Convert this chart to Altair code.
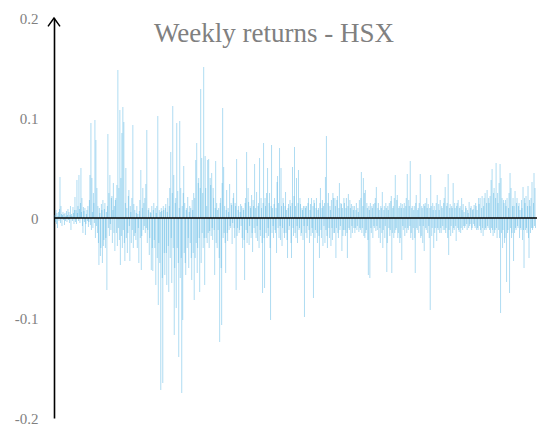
import altair as alt
import pandas as pd

title_text = "Weekly returns - HSX"
y_ticks = [-0.2, -0.1, 0, 0.1, 0.2]

# Weekly returns, in per-mille, in chronological order
seg1 = [3,-4, 8,-6, 5,-10, 2,6, -3,9, 41,-5, 12,4, -8,3, 6,-2, 4,-7,
        5,-3, 2,7, -4,3, 9,-2, 6,-5, 3,12, -12,4, 2,-3, 11,5, -6,8,
        21,-4, 8,-6, 38,5, 12,-3, 43,9, -5,15, 50,6, 20,-8, -15,11, 7,-4,
        10,-17, -6,4, 8,-3, 12,-9, -4,18, 43,-7, 95,-12, 40,6, -10,25, 15,-5,
        98,-20, 78,-8, 30,-15, 12,-25, -47,10, 5,-38, -30,14, 8,-45, 18,-28, -22,9,
        15,-30, -20,6, -72,12, 84,-10, 25,-18, 43,-6, -12,20, 22,-25, 8,35, -15,12]
seg2 = [-33,18, 20,-15, 33,-28, 148,-10, 30,-22, 108,-47, 40,-18, 85,-30, 111,-12, 96,-25,
        -43,15, 50,-20, 10,-35, -15,22, 28,-8, -43,12, 6,-25, 20,-12, 93,-30, 14,-18,
        8,-15, -22,5, 12,-30, 4,-10, -45,7, 18,-20, 48,-52, -18,10, 30,-12, 15,-8,
        20,-15, 34,-10, 88,-25, -12,8, 10,-37, -20,6, 5,-52, 12,-30, -53,8, 15,-22,
        -30,10, -67,5, 12,-40, 102,-87, -25,8, -45,6, -172,10, 7,-60, -165,12, 8,-35,
        -57,10, 14,-35, -67,6, 20,-28, -74,12, 30,-40, 66,-20, -65,25, 112,-30, 43,-117]
seg3 = [-50,15, 20,-90, 95,-30, 27,-45, -139,10, 97,-60, 30,-40, -175,12, -102,25, 52,-35,
        15,-45, -57,8, 10,-30, 21,-20, -50,6, 12,-25, 10,-40, -62,18, 8,-35, 25,-82,
        20,-40, 58,-25, 75,-55, -30,35, 40,-20, -74,30, 129,-45, 60,-15, 25,-30, 151,-20,
        -67,62, 30,-20, 12,-25, 58,-15, 59,-30, -13,40, 33,-18, 45,-10, -22,30, 20,-12,
        -57,10, 57,-25, 15,-30, 8,-12, 10,-40, -124,15, 20,-50, -107,35, 110,-20, 51,-15,
        12,-25, -55,8, 28,-15, -23,10, 6,-12, 34,-8, -10,15, 13,-26, -5,20, 25,-10]
seg4 = [-20,15, 12,-72, 59,-18, -10,8, 12,-15, -12,6, 14,-8, 12,-20, -30,10, 8,-22,
        -62,15, 20,-12, 66,-25, -15,30, 16,-27, -8,12, 10,-20, 23,-15, -34,18, 12,-10,
        54,-15, 10,-20, 26,-8, -23,12, 15,-30, 60,-12, -18,20, 10,-25, -75,15, 75,-20,
        -70,20, 12,-15, 25,-20, 50,-10, -18,15, 25,-30, -102,12, 73,-15, 10,-8, -20,14,
        20,-12, -15,10, -35,36, 42,-10, 15,-20, 70,-8, -22,50, 12,-28, -10,20, 15,-15,
        -20,12, 26,-15, 8,-22, -40,10, 14,-12, -8,18, 12,-25, -40,15, 51,-10, -18,22]
seg5 = [71,-15, 12,-20, 40,-8, -25,15, 48,-12, -10,20, 14,-18, -15,10, 8,-22, 12,-8,
        -99,12, 10,-15, 12,-20, -8,15, 20,-12, -25,8, 14,-18, 20,-10, -15,12, -80,18,
        15,-20, -12,10, 20,-15, -25,8, 10,-18, -40,15, 30,-12, -20,10, 18,-28, 12,-8,
        15,-25, 41,-12, 82,-18, -30,15, 25,-10, -20,12, 8,-28, 18,-10, -22,25, 20,-15,
        -15,20, 12,-40, -10,18, 22,-15, -20,10, 35,-12, -8,15, 14,-33, 10,-18, -12,20,
        15,-12, -18,10, 20,-15, -40,12, 24,-10, -12,18, 10,-20, 14,-8, -15,12, 8,-10]
seg6 = [12,-15, -10,8, 15,-12, -8,10, 6,-14, 18,-10, -12,20, 46,-15, -10,12, 40,-18,
        25,-20, 28,-15, -12,15, 10,-22, -57,12, 8,-60, 15,-10, -15,12, 10,-20, 14,-8,
        -10,15, 20,-13, 31,-8, -12,10, 15,-20, 8,-10, -25,12, 10,-15, 26,-30, -12,8,
        12,-20, -8,15, 10,-54, -25,12, 8,-10, 15,-18, -12,17, 22,-55, -15,10, 12,-20,
        20,-15, 43,-12, -10,18, 23,-20, -15,10, 12,-25, -20,15, 10,-42, 14,-8, -12,10,
        15,-18, -10,12, 20,-15, 44,-10, -12,18, 12,-8, 57,-20, -15,10, 12,-22, -10,8]
seg7 = [12,-20, -55,15, 23,-10, -12,8, 10,-15, 15,-8, 44,-20, -18,12, 10,-25, -8,14,
        -33,12, 15,-10, -12,20, 10,-15, 14,-8, -20,10, -92,43, 12,-18, -10,15, 8,-30,
        12,-15, -10,8, 15,-23, 23,-10, -12,14, 8,-15, 18,-10, -15,12, 10,-8, -12,15,
        20,-12, 31,-15, -10,12, 15,-20, 44,-37, -12,10, 14,-18, -8,12, 10,-15, 35,-10,
        -12,15, 10,-8, -23,12, 15,-10, 18,-12, -14,10, 12,-15, -10,20, 8,-12, 14,-8,
        6,-10, -8,12, 10,-6, -12,8, 5,-10, 16,-8, -6,10, 12,-12, -10,8, 9,-6]
seg8 = [13,-8, -10,15, 12,-12, 8,-10, -12,20, 14,-8, 20,-12, -15,10, 22,-10, -18,12,
        20,-12, 25,-10, -12,15, 28,-8, -10,20, 15,-12, 22,-15, 38,-10, 49,-12, -18,25,
        30,-15, -12,20, 55,-10, -20,25, 15,-12, 35,-20, 54,-95, 40,-15, 20,-30, -12,18,
        15,-25, -20,18, 12,-64, 20,-15, -12,10, 25,-75, 45,-10, 30,-20, -15,12, 20,-43,
        12,-15, 27,-10, -12,15, 20,-8, -10,12, 15,-20, 8,-10, -12,18, 10,-22, 31,-12,
        -50,20, 15,-12, 22,-10, -15,12, 32,-20, -40,18, 12,-15, 20,-10, 36,-12, -10,15, 45,-8, 30,-10]

returns_permille = seg1 + seg2 + seg3 + seg4 + seg5 + seg6 + seg7 + seg8
df = pd.DataFrame({
    "week": list(range(len(returns_permille))),
    "ret": [v / 1000 for v in returns_permille],
})

n = len(df)
yscale = alt.Scale(domain=[-0.2, 0.2], nice=False, zero=False)
xscale = alt.Scale(domain=[-2, n + 2], nice=False, zero=False)

bars = alt.Chart(df).mark_rule(color="#3AA8E0", strokeWidth=0.55, opacity=0.75).encode(
    x=alt.X("week:Q", scale=xscale, axis=None),
    y=alt.Y("ret:Q", scale=yscale, axis=alt.Axis(
        values=y_ticks, labelExpr="toString(datum.value)", ticks=False, grid=False,
        domainColor="black", domainWidth=1.6, labelFont="Liberation Serif",
        labelFontSize=15, labelColor="#808080", labelPadding=16, title=None)),
    y2=alt.datum(0),
)

zero_line = alt.Chart(pd.DataFrame({"z": [0]})).mark_rule(color="black", strokeWidth=1.5).encode(
    y=alt.Y("z:Q", scale=yscale)
)

arrow = alt.Chart(pd.DataFrame({"top": [0.2]})).mark_point(
    shape="M-1,1.4L0,0L1,1.4", filled=False, size=144, stroke="black",
    strokeWidth=1.5, opacity=1
).encode(x=alt.value(0), y=alt.Y("top:Q", scale=yscale))

title = alt.Chart(pd.DataFrame({"t": [title_text]})).mark_text(
    font="Liberation Serif", fontSize=27, color="#808080", align="center", baseline="alphabetic"
).encode(text="t:N", x=alt.value(220), y=alt.value(24))

chart = alt.layer(bars, zero_line, arrow, title).properties(
    width=483, height=400,
    padding={"left": 46, "top": 10, "right": 5, "bottom": 8},
    autosize=alt.AutoSizeParams(type="none"),
).configure_view(stroke=None)

chart.save("out.html", embed_options={"renderer": "svg", "actions": False})
